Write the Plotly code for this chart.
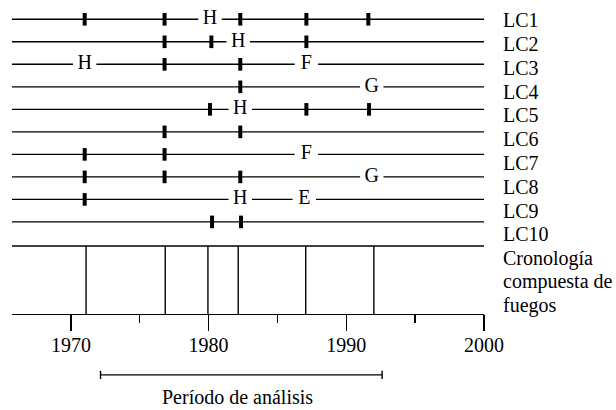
import plotly.graph_objects as go

# ---------------- data ----------------
ROWS = ["LC1", "LC2", "LC3", "LC4", "LC5", "LC6", "LC7", "LC8", "LC9", "LC10"]

# fire-scar marks (years) per sample
SCARS_LC1 = [1971.0, 1976.8, 1982.3, 1987.1, 1991.6]
SCARS_LC2 = [1976.8, 1980.2, 1987.1]
SCARS_LC3 = [1976.8, 1982.3]
SCARS_LC4 = [1982.3]
SCARS_LC5 = [1980.1, 1987.1, 1991.65]
SCARS_LC6 = [1976.8, 1982.3]
SCARS_LC7 = [1971.0, 1976.8]
SCARS_LC8 = [1971.0, 1976.8, 1982.3]
SCARS_LC9 = [1971.0]
SCARS_LC10 = [1980.25, 1982.35]
SCARS = [SCARS_LC1, SCARS_LC2, SCARS_LC3, SCARS_LC4, SCARS_LC5,
         SCARS_LC6, SCARS_LC7, SCARS_LC8, SCARS_LC9, SCARS_LC10]

# letter codes on the series lines
CODE_ROW = ["LC1", "LC2", "LC3", "LC3", "LC4", "LC5", "LC7", "LC8", "LC9", "LC9"]
CODE_YEAR = [1980.1, 1982.15, 1971.0, 1987.1, 1991.85, 1982.3, 1987.1, 1991.85, 1982.3, 1986.95]
CODE_TEXT = ["H", "H", "H", "F", "G", "H", "F", "G", "H", "E"]

# composite fire chronology
COMPOSITE = [1971.1, 1976.85, 1979.95, 1982.15, 1987.05, 1992.0]
COMPOSITE_LABEL = ["Cronología", "compuesta de", "fuegos"]

# analysis period
PERIOD = [1972.15, 1992.6]
PERIOD_LABEL = "Período de análisis"

X_START, X_END = 1965.72, 2000.0
MAJOR_TICK, MINOR_TICK = 10, 5

# ---------------- styling / layout constants ----------------
FONT = "Liberation Serif"
FS = 20
LW = 1.4
GAP = 0.85          # half gap (years) around a letter
MARK_H = 0.28       # half height (rows) of scar marks
COMP_TOP = 11.07    # composite box top (row units)
Y_BOTTOM, Y_TOP = 14.09, 0.143

fig = go.Figure()

# series lines, broken around letter codes
lx, ly = [], []
for i, name in enumerate(ROWS):
    r = i + 1
    cuts = sorted(y for rr, y in zip(CODE_ROW, CODE_YEAR) if rr == name)
    start = X_START
    for c in cuts:
        lx += [start, c - GAP, None]
        ly += [r, r, None]
        start = c + GAP
    lx += [start, X_END, None]
    ly += [r, r, None]
# composite top line
lx += [X_START, X_END, None]
ly += [COMP_TOP, COMP_TOP, None]
# composite verticals
for c in COMPOSITE:
    lx += [c, c, None]
    ly += [COMP_TOP, Y_BOTTOM, None]
fig.add_trace(go.Scatter(x=lx, y=ly, mode="lines",
                         line=dict(color="black", width=LW),
                         hoverinfo="skip", showlegend=False))

# scar marks
mx, my = [], []
for i, yrs in enumerate(SCARS):
    r = i + 1
    for y in yrs:
        mx += [y, y, None]
        my += [r - MARK_H, r + MARK_H, None]
fig.add_trace(go.Scatter(x=mx, y=my, mode="lines",
                         line=dict(color="black", width=4),
                         hoverinfo="skip", showlegend=False))

# letter codes
fig.add_trace(go.Scatter(
    x=CODE_YEAR, y=[ROWS.index(r) + 1 for r in CODE_ROW],
    mode="text", text=CODE_TEXT, textposition="middle center",
    textfont=dict(family=FONT, size=FS, color="black"),
    hoverinfo="skip", showlegend=False, cliponaxis=False))

annotations = []
LABEL_X = 1.035
for i, name in enumerate(ROWS):
    annotations.append(dict(x=LABEL_X, xref="paper", y=1.04 + i * 1.057, yref="y",
                            text=name, showarrow=False, xanchor="left", yanchor="middle",
                            font=dict(family=FONT, size=FS, color="black")))
for j, t in enumerate(COMPOSITE_LABEL):
    annotations.append(dict(x=LABEL_X, xref="paper", y=11.61 + j * 1.057, yref="y",
                            text=t, showarrow=False, xanchor="left", yanchor="middle",
                            font=dict(family=FONT, size=FS, color="black")))
annotations.append(dict(x=(PERIOD[0] + PERIOD[1]) / 2 - 0.25, xref="x", y=-0.264, yref="paper",
                        text=PERIOD_LABEL, showarrow=False, xanchor="center", yanchor="middle",
                        font=dict(family=FONT, size=FS, color="black")))

BY = -0.194
CAP = 0.013
shapes = [
    dict(type="line", xref="x", yref="paper", x0=PERIOD[0], x1=PERIOD[1], y0=BY, y1=BY,
         line=dict(color="black", width=LW)),
    dict(type="line", xref="x", yref="paper", x0=PERIOD[0], x1=PERIOD[0], y0=BY - CAP, y1=BY + CAP,
         line=dict(color="black", width=LW)),
    dict(type="line", xref="x", yref="paper", x0=PERIOD[1], x1=PERIOD[1], y0=BY - CAP, y1=BY + CAP,
         line=dict(color="black", width=LW)),
]

fig.update_layout(
    width=616, height=410,
    margin=dict(l=12, r=132, t=0, b=96, autoexpand=False),
    paper_bgcolor="white", plot_bgcolor="white",
    showlegend=False,
    annotations=annotations, shapes=shapes,
    xaxis=dict(range=[X_START, X_END], showgrid=False, zeroline=False,
               showline=True, linecolor="black", linewidth=LW,
               ticks="outside", ticklen=16, tickwidth=LW, tickcolor="black",
               tick0=1970, dtick=MAJOR_TICK, ticklabelstandoff=-3,
               minor=dict(ticks="outside", ticklen=8, tickwidth=LW, tickcolor="black",
                          dtick=MINOR_TICK, tick0=1970, showgrid=False),
               tickfont=dict(family=FONT, size=FS, color="black"),
               automargin=False, fixedrange=True),
    yaxis=dict(range=[Y_BOTTOM, Y_TOP], visible=False, fixedrange=True, automargin=False),
)

fig.write_html("out.html",
               config={"displayModeBar": False, "staticPlot": True},
               post_script="document.body.style.margin='0';document.body.style.padding='0';")
